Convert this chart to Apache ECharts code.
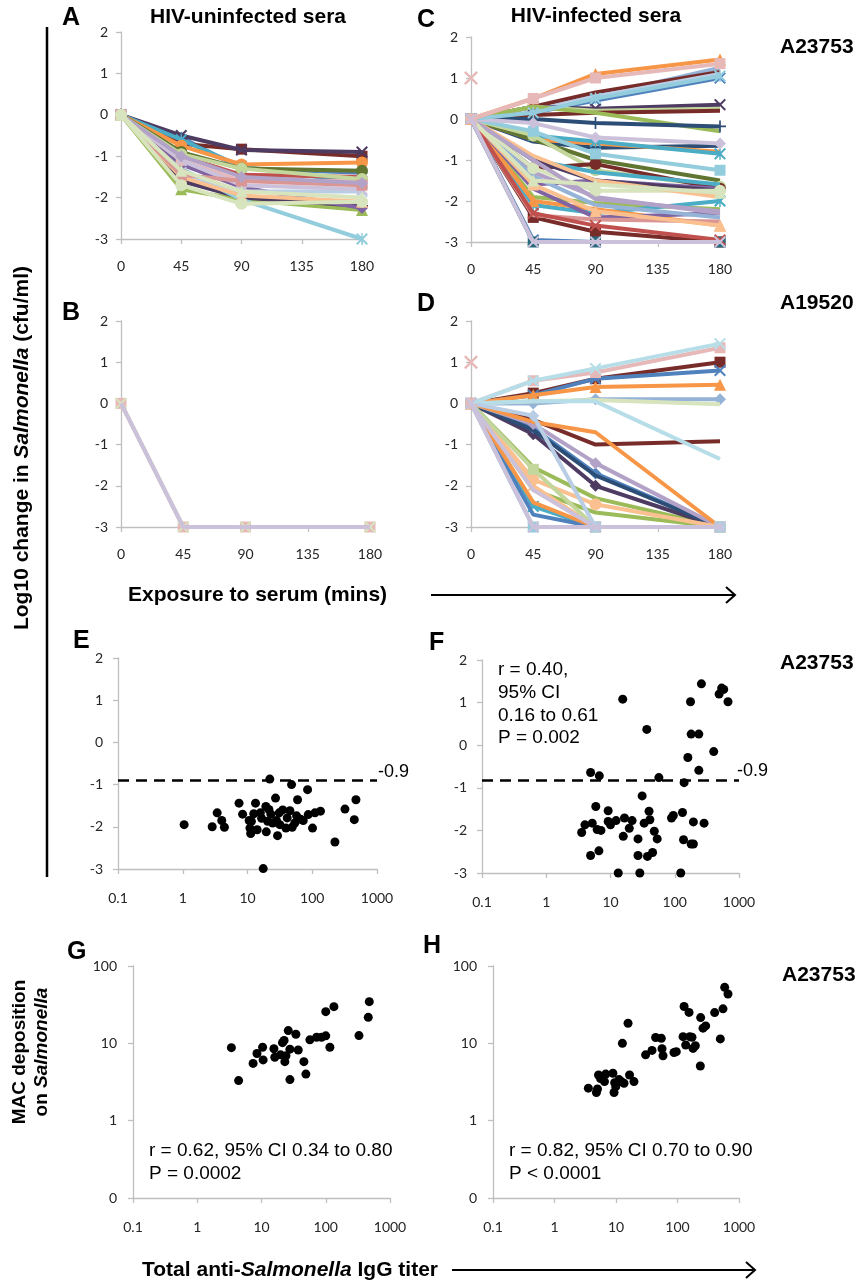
<!DOCTYPE html>
<html><head><meta charset="utf-8">
<script src="https://cdn.jsdelivr.net/npm/echarts@6/dist/echarts.min.js"></script>
<style>html,body{margin:0;padding:0;background:#fff}#c{width:868px;height:1285px}</style>
</head><body><div id="c"></div>
<script>
// ---------------- DATA ----------------
const times = [0, 45, 90, 180];
const timeMin = 0, timeMax = 180, timeStep = 45;
const changeMin = -3, changeMax = 2, changeStep = 1;
const titerMin = 0.1, titerMax = 1000;
const macMin = 0.1, macMax = 100;
const titerTickLabels = ['0.1', '1', '10', '100', '1000'];
const macTickLabels = ['0', '1', '10', '100'];

// Panel A: HIV-uninfected sera, strain A23753 (log10 change at 0,45,90,180 min)
const panelA = [
  [0,-0.55,-1.3,-1.4],[0,-0.7,-0.83,-1.0],[0,-1.8,-2.05,-2.3],[0,-0.5,-0.85,-0.9],
  [0,-0.6,-1.25,-1.65],[0,-0.75,-1.2,-1.15],[0,-1.6,-2.0,-2.2],[0,-1.0,-1.45,-1.5],
  [0,-0.9,-1.3,-1.35],[0,-1.3,-2.05,-3.0],[0,-1.2,-1.75,-2.25],[0,-1.1,-1.6,-1.6],
  [0,-1.5,-1.95,-2.1],[0,-1.4,-1.85,-1.85],[0,-1.1,-1.7,-1.8],[0,-0.95,-1.3,-1.55],
  [0,-1.45,-1.6,-1.7],[0,-1.0,-1.5,-1.65],[0,-1.7,-2.15,-2.1],[0,-1.35,-1.85,-2.0]
];
// Panel B: HIV-uninfected sera, strain A19520
const panelB = [[0,-3,-3,-3],[0,-3,-3,-3],[0,-3,-3,-3]];
// Panel C: HIV-infected sera, strain A23753
const panelC = [
  [0,0.3,0.55,1.25],[0,0.3,0.65,1.15],[0,0.15,0.45,1.0],[0,0.2,0.55,1.1],
  [0,0.3,0.25,0.35],[0,0.3,0.2,0.25],[0,0.1,0.15,0.2],[0,0.3,0.15,-0.3],
  [0,0.0,-0.1,-0.18],[0,-0.55,-0.7,-0.65],[0,-0.5,-0.6,-0.8],[0,-0.4,-0.55,-0.85],
  [0,-0.5,-1.0,-1.5],[0,-0.4,-1.25,-1.65],[0,-1.2,-1.1,-1.7],[0,-1.0,-1.3,-1.6],
  [0,-1.6,-1.5,-1.7],[0,-1.0,-1.5,-1.75],[0,-1.9,-2.05,-2.2],[0,-2.1,-2.3,-2.0],
  [0,-2.0,-2.2,-2.6],[0,-1.7,-2.4,-2.3],[0,-2.4,-2.75,-3.0],[0,-2.35,-2.45,-2.5],
  [0,-2.95,-3.0,-3.0],[0,-3.0,-3.0,-3.0],[0,-2.3,-2.6,-2.95],[0,-1.3,-1.9,-2.3],
  [0,-1.4,-2.1,-2.4],[0,-0.3,-0.85,-1.25],[0,-1.2,-1.75,-1.75],[0,-0.9,-1.5,-1.9],
  [0,-1.0,-1.95,-2.25],[0,-1.6,-2.25,-2.6],[0,-1.5,-1.6,-1.8],[0,-0.1,-0.45,-0.6],
  [0,0.15,0.5,1.05],[0,0.5,1.1,1.45],[0,0.5,1.0,1.35],[0,-3.0,-3.0,-3.0]
];
const panelCSingle = [[0, 1]];
// Panel D: HIV-infected sera, strain A19520
const panelD = [
  [0,0.25,0.6,1.0],[0,0.2,0.6,0.8],[0,0.2,0.4,0.45],[0,0.0,0.1,0.1],
  [0,-0.4,-1.0,-0.92],[0,-2.1,-2.65,-3.0],[0,-1.55,-2.3,-3.0],[0,-0.75,-2.0,-3.0],
  [0,-0.6,-1.7,-3.0],[0,-0.65,-1.75,-3.0],[0,-0.5,-1.45,-3.0],[0,-2.5,-3.0,-3.0],
  [0,-2.7,-3.0,-3.0],[0,-2.4,-3.0,-3.0],[0,-0.45,-0.7,-3.0],[0,-1.85,-2.45,-3.0],
  [0,-2.0,-3.0,-3.0],[0,-1.6,-3.0,-3.0],[0,-2.1,-3.0,-3.0],[0,-3.0,-3.0,-3.0],
  [0,0.05,0.08,-0.02],[0,0.05,0.05,-1.35],[0,-0.3,-3.0,-3.0],[0,0.55,0.75,1.35],
  [0,0.55,0.85,1.45],[0,-3.0,-3.0,-3.0]
];
const panelDSingle = [[0, 1]];

// Panel E: HIV-uninfected, [IgG titer, log10 change at 180 min]
const pointsE = [
  [1.05,-1.95],[2.85,-2.0],[3.4,-1.67],[4.0,-1.85],[4.4,-2.01],[7.4,-1.44],[8.4,-1.70],
  [10.6,-1.85],[10.9,-2.03],[11.2,-2.16],[11.5,-1.87],[12.5,-1.69],[13.3,-1.44],[14.1,-2.07],
  [15.8,-1.67],[16.5,-1.80],[17.5,-2.99],[19.2,-1.52],[19.5,-2.12],[20.5,-1.87],[21.4,-1.59],
  [22.1,-0.87],[23,-1.70],[24.5,-1.91],[27.1,-1.32],[28,-1.85],[29.1,-2.21],[30.9,-1.67],
  [31.6,-1.95],[35,-1.6],[39.2,-2.03],[41,-1.79],[45.2,-1.62],[47.9,-1.0],[49,-2.01],
  [53.7,-1.91],[57.3,-1.74],[59.3,-1.36],[66,-1.82],[72.6,-1.85],[84.7,-1.12],[86.7,-1.71],
  [101,-2.03],[110,-1.67],[134,-1.63],[224,-2.36],[320,-1.58],[446,-1.83],[473,-1.36]
];
// Panel F: HIV-infected
const pointsF = [
  [3.56,-2.05],[4.0,-1.87],[4.9,-2.59],[4.9,-0.64],[5.2,-1.83],[5.9,-1.44],[6.2,-1.98],
  [6.6,-2.48],[6.7,-0.72],[7.1,-2.0],[9.2,-1.54],[9.2,-1.79],[10,-1.87],[12.2,-1.77],
  [13.2,-3.0],[15.5,1.08],[15.8,-2.14],[16.5,-1.71],[19.6,-1.95],[21.7,-1.77],[26.8,-2.2],
  [26.8,-2.59],[28.6,-3.0],[31.1,-1.19],[33.4,-1.83],[36.7,0.37],[37.6,-2.61],[39.8,-1.55],
  [41,-1.75],[45.2,-2.52],[48,-2.02],[53.3,-2.2],[56.6,-0.76],[89,-1.71],[95,-1.65],
  [124,-3.0],[132,-1.58],[140,-0.88],[137,-2.22],[160,-0.29],[176,1.02],[180,-2.32],
  [180,0.26],[195,-1.8],[195,-2.32],[237,0.26],[237,-0.59],[260,1.44],[286,-1.83],
  [404,-0.15],[490,1.2],[537,1.34],[578,1.31],[674,1.02]
];
const cutoffE = -0.9, cutoffF = -0.82;
const cutoffLabel = '-0.9';
const statsF = ['r = 0.40,', '95% CI', '0.16 to 0.61', 'P = 0.002'];

// Panel G: HIV-uninfected, [IgG titer, MAC deposition]
const pointsG = [
  [3.4,8.8],[4.4,3.3],[7.4,5.5],[8.5,7.4],[10.4,8.9],[10.6,6.1],[15.6,8.5],[16.1,6.6],
  [19.8,7.1],[21.2,10.2],[22.5,10.9],[23.1,5.8],[24,6.9],[26.1,14.6],[27.7,8.4],[27.7,3.4],
  [34.3,13.1],[37.3,8.2],[45.7,5.8],[49.1,4.0],[56.6,11.1],[72,12.0],[86,12.0],[100,12.5],
  [100,25.7],[116,8.9],[134,29.8],[329,12.6],[459,21.7],[476,34.6]
];
// Panel H: HIV-infected
const pointsH = [
  [3.55,2.63],[4.8,2.31],[5.0,2.57],[5.2,3.9],[5.6,3.5],[6.5,3.2],[6.8,4.0],[8.9,4.1],
  [9.3,2.31],[9.5,3.1],[9.9,2.75],[11.2,3.4],[12.2,3.2],[12.7,10],[13.5,3.05],[15.7,18.2],
  [16.6,3.9],[19.6,3.2],[30.3,7.1],[38.5,8.1],[44.1,11.9],[54.6,11.6],[56,8.5],[58.1,6.9],
  [87.7,7.6],[95.6,7.8],[123,12.2],[128,29.9],[136,9.5],[154,25.1],[158,12.2],[172,12],
  [179,8.6],[195,9.3],[235,5.1],[238,21.5],[260,15.7],[287,16.8],[402,25],[497,11.4],
  [549,27.9],[585,53],[662,43.5]
];
const statsG = ['r = 0.62, 95% CI 0.34 to 0.80', 'P = 0.0002'];
const statsH = ['r = 0.82, 95% CI 0.70 to 0.90', 'P < 0.0001'];

// ---------------- STYLES ----------------
const COL = {
  blue:'#4F81BD', red:'#C0504D', green:'#9BBB59', purple:'#8064A2', aqua:'#4BACC6', orange:'#F79646',
  dblue:'#2C4D75', dred:'#772C2A', dgreen:'#5F7530', dpurple:'#4D3B62', daqua:'#276A7C', dorange:'#B65708',
  lblue:'#95B3D7', lred:'#D99694', lgreen:'#C3D69B', lpurple:'#B3A2C7', laqua:'#93CDDD', lorange:'#FAC090',
  pink:'#E6B9B8', lav:'#CCC1DA', pgreen:'#D7E4BD', paqua:'#B7DEE8', pblue:'#B9CDE5', peach:'#FCD5B5'
};
const SYM = {
  d:'diamond', s:'rect', t:'triangle', c:'circle', n:'none',
  x:'path://M0,1.2 L1.2,0 L5,3.8 L8.8,0 L10,1.2 L6.2,5 L10,8.8 L8.8,10 L5,6.2 L1.2,10 L0,8.8 L3.8,5 Z',
  a:'path://M0,1.2 L1.2,0 L5,3.8 L8.8,0 L10,1.2 L6.2,5 L10,8.8 L8.8,10 L5,6.2 L1.2,10 L0,8.8 L3.8,5 Z M4.4,0 L5.6,0 L5.6,10 L4.4,10 Z',
  p:'path://M4.3,0 L5.7,0 L5.7,4.3 L10,4.3 L10,5.7 L5.7,5.7 L5.7,10 L4.3,10 L4.3,5.7 L0,5.7 L0,4.3 L4.3,4.3 Z'
};
const styleA = [['blue','d'],['dred','s'],['green','t'],['dpurple','x'],['aqua','a'],['orange','c'],
  ['dpurple','p'],['red','d'],['dgreen','c'],['laqua','a'],['purple','d'],['pink','s'],['lorange','t'],
  ['pblue','x'],['lav','x'],['lgreen','c'],['lred','s'],['lpurple','d'],['pgreen','c'],['pgreen','t']];
const styleB = [['pink','s'],['pgreen','x'],['lav','n']];
const styleC = [['lblue','n'],['dred','n'],['blue','x'],['pblue','n'],['dpurple','x'],['lgreen','n'],
  ['dred','n'],['green','n'],['dblue','p'],['dblue','n'],['orange','n'],['aqua','a'],['dgreen','n'],
  ['lgreen','c'],['dred','c'],['aqua','n'],['purple','n'],['dpurple','n'],['green','n'],['aqua','a'],
  ['orange','t'],['purple','n'],['dred','s'],['lred','n'],['blue','x'],['daqua','s'],['red','x'],
  ['lpurple','n'],['lblue','n'],['laqua','s'],['pgreen','c'],['lorange','n'],['lpurple','n'],['lorange','t'],
  ['pgreen','t'],['lav','d'],['laqua','a'],['orange','t'],['pink','s'],['lav','x']];
const styleD = [['dred','s'],['blue','x'],['orange','t'],['lblue','d'],['dred','n'],['green','n'],
  ['green','n'],['dpurple','d'],['blue','d'],['dblue','n'],['lpurple','d'],['aqua','x'],['blue','n'],
  ['orange','n'],['orange','n'],['lorange','c'],['lorange','x'],['lgreen','s'],['lav','n'],['laqua','s'],
  ['pgreen','n'],['paqua','n'],['pblue','d'],['pink','s'],['paqua','x'],['lav','x']];

const ARIAL = '"Liberation Sans", Arial, sans-serif';
const CAL = 'Lato, "Open Sans", sans-serif';
const AX = '#BFBFBF';

// ---------------- GRIDS & AXES ----------------
const grids = [
  {left:121, top:32, width:241, height:207},   // A
  {left:121, top:321, width:249, height:206},  // B
  {left:471, top:37, width:249, height:205},   // C
  {left:471, top:321, width:249, height:206},  // D
  {left:118, top:658, width:259, height:211},  // E
  {left:482, top:660, width:257, height:213},  // F
  {left:133, top:966, width:257, height:232},  // G
  {left:493, top:966, width:246, height:232}   // H
];
const lab = (m) => ({fontFamily:CAL, fontSize:14, color:'#262626', margin:m});
const axLine = {show:true, onZero:false, lineStyle:{color:AX, width:1.3}};
const axTick = {show:true, length:5, inside:false, lineStyle:{color:AX, width:1.3}};
const decade = (v) => Math.round(Math.log10(v));

const xAxes = [], yAxes = [];
for (let i = 0; i < 4; i++) {
  xAxes.push({gridIndex:i, type:'value', min:timeMin, max:timeMax, interval:timeStep,
    axisLine:axLine, axisTick:axTick, splitLine:{show:false}, axisLabel:lab(20)});
  yAxes.push({gridIndex:i, type:'value', min:changeMin, max:changeMax, interval:changeStep,
    axisLine:axLine, axisTick:axTick, splitLine:{show:false}, axisLabel:lab(13)});
}
for (let i = 4; i < 8; i++) {
  xAxes.push({gridIndex:i, type:'log', logBase:10, min:titerMin, max:titerMax,
    axisLine:axLine, axisTick:axTick, splitLine:{show:false}, minorTick:{show:false},
    axisLabel:Object.assign(lab(22), {formatter:(v)=>titerTickLabels[decade(v)+1]})});
}
for (let i = 4; i < 6; i++) {
  yAxes.push({gridIndex:i, type:'value', min:changeMin, max:changeMax, interval:changeStep,
    axisLine:axLine, axisTick:axTick, splitLine:{show:false}, axisLabel:lab(15)});
}
for (let i = 6; i < 8; i++) {
  yAxes.push({gridIndex:i, type:'log', logBase:10, min:macMin, max:macMax,
    axisLine:axLine, axisTick:axTick, splitLine:{show:false}, minorTick:{show:false},
    axisLabel:Object.assign(lab(16), {formatter:(v)=>macTickLabels[decade(v)+1]})});
}

// ---------------- SERIES ----------------
const series = [];
function addLines(rows, styles, gi) {
  rows.forEach((row, k) => {
    const st = styles[k];
    series.push({type:'line', xAxisIndex:gi, yAxisIndex:gi,
      data: times.map((t, j) => [t, row[j]]),
      symbol: SYM[st[1]], symbolSize: st[1]==='s' ? 11 : 12, showSymbol: st[1] !== 'n',
      lineStyle:{width:4, color:COL[st[0]]}, itemStyle:{color:COL[st[0]], opacity:1}, z: 2 + k*0.01});
  });
}
function addSingle(pts, gi) {
  series.push({type:'line', xAxisIndex:gi, yAxisIndex:gi, data:pts, symbol:SYM.x, symbolSize:14,
    lineStyle:{width:4, color:COL.pink}, itemStyle:{color:COL.pink}, z:1});
}
addLines(panelA, styleA, 0);
addLines(panelB, styleB, 1);
addSingle(panelCSingle, 2);
addLines(panelC, styleC, 2);
addSingle(panelDSingle, 3);
addLines(panelD, styleD, 3);

function addScatter(pts, gi, cutoff) {
  const s = {type:'scatter', xAxisIndex:gi, yAxisIndex:gi, data:pts, symbol:'circle', symbolSize:9,
    itemStyle:{color:'#000', opacity:1}, z:3};
  if (cutoff !== undefined) {
    s.markLine = {silent:true, symbol:'none', animation:false, label:{show:false},
      lineStyle:{color:'#000', width:2.6, type:[11,7], opacity:1}, data:[{yAxis:cutoff}]};
  }
  series.push(s);
}
addScatter(pointsE, 4, cutoffE);
addScatter(pointsF, 5, cutoffF);
addScatter(pointsG, 6);
addScatter(pointsH, 7);

// ---------------- ANNOTATIONS ----------------
const T = (text, x, y, size, bold, align, extra) => Object.assign({type:'text', x, y, silent:true,
  style:{text, fill:'#000', font:(bold?'bold ':'') + size + 'px ' + ARIAL, align:align||'left', verticalAlign:'middle'}}, extra||{});
const graphics = [
  T('A', 62, 18, 25, true), T('HIV-uninfected sera', 248, 17, 21, true, 'center'),
  T('C', 417, 20, 25, true), T('HIV-infected sera', 596, 16, 21, true, 'center'),
  T('A23753', 780, 47, 21, true),
  T('B', 62, 313, 25, true), T('D', 417, 304, 25, true), T('A19520', 780, 303, 21, true),
  T('Exposure to serum (mins)', 128, 595, 21, true),
  T('E', 73, 641, 25, true), T('F', 429, 643, 25, true), T('A23753', 780, 663, 21, true),
  T(cutoffLabel, 378, 772, 18, false), T(cutoffLabel, 737, 771, 18, false),
  T('G', 67, 952, 25, true), T('H', 423, 946, 25, true), T('A23753', 782, 975, 21, true),
  {type:'line', silent:true, shape:{x1:47, y1:27, x2:47, y2:877}, style:{stroke:'#000', lineWidth:2.5}},
  {type:'line', silent:true, shape:{x1:431, y1:595, x2:735, y2:595}, style:{stroke:'#000', lineWidth:2}},
  {type:'polyline', silent:true, shape:{points:[[726,587],[735,595],[726,603]]}, style:{stroke:'#000', lineWidth:2, fill:null}},
  {type:'line', silent:true, shape:{x1:452, y1:1270, x2:755, y2:1270}, style:{stroke:'#000', lineWidth:2}},
  {type:'polyline', silent:true, shape:{points:[[746,1262],[755,1270],[746,1278]]}, style:{stroke:'#000', lineWidth:2, fill:null}},
  {type:'text', x:22, y:448, rotation:Math.PI/2, silent:true, style:{
    text:'{b|Log10 change in }{i|Salmonella}{b| (cfu/ml)}', align:'center', verticalAlign:'middle',
    rich:{b:{font:'bold 21px '+ARIAL, fill:'#000'}, i:{font:'italic bold 21px '+ARIAL, fill:'#000'}}}},
  {type:'text', x:31, y:1052, rotation:Math.PI/2, silent:true, style:{
    text:'{b|MAC deposition}\n{b|on }{i|Salmonella}', align:'center', verticalAlign:'middle',
    rich:{b:{font:'bold 19px '+ARIAL, fill:'#000', lineHeight:22, align:'center'}, i:{font:'italic bold 19px '+ARIAL, fill:'#000', lineHeight:22}}}},
  {type:'text', x:438, y:1270, silent:true, style:{
    text:'{b|Total anti-}{i|Salmonella}{b| IgG titer}', align:'right', verticalAlign:'middle',
    rich:{b:{font:'bold 21px '+ARIAL, fill:'#000'}, i:{font:'italic bold 21px '+ARIAL, fill:'#000'}}}}
];
statsF.forEach((s, i) => graphics.push(T(s, 498, 670 + i*22.7, 19, false)));
statsG.forEach((s, i) => graphics.push(T(s, 149, 1151 + i*23, 19, false)));
statsH.forEach((s, i) => graphics.push(T(s, 509, 1151 + i*23, 19, false)));

const chart = echarts.init(document.getElementById('c'), null, {renderer:'canvas'});
chart.setOption({animation:false, backgroundColor:'#fff', grid:grids, xAxis:xAxes, yAxis:yAxes,
  series, graphic:graphics});
</script></body></html>
